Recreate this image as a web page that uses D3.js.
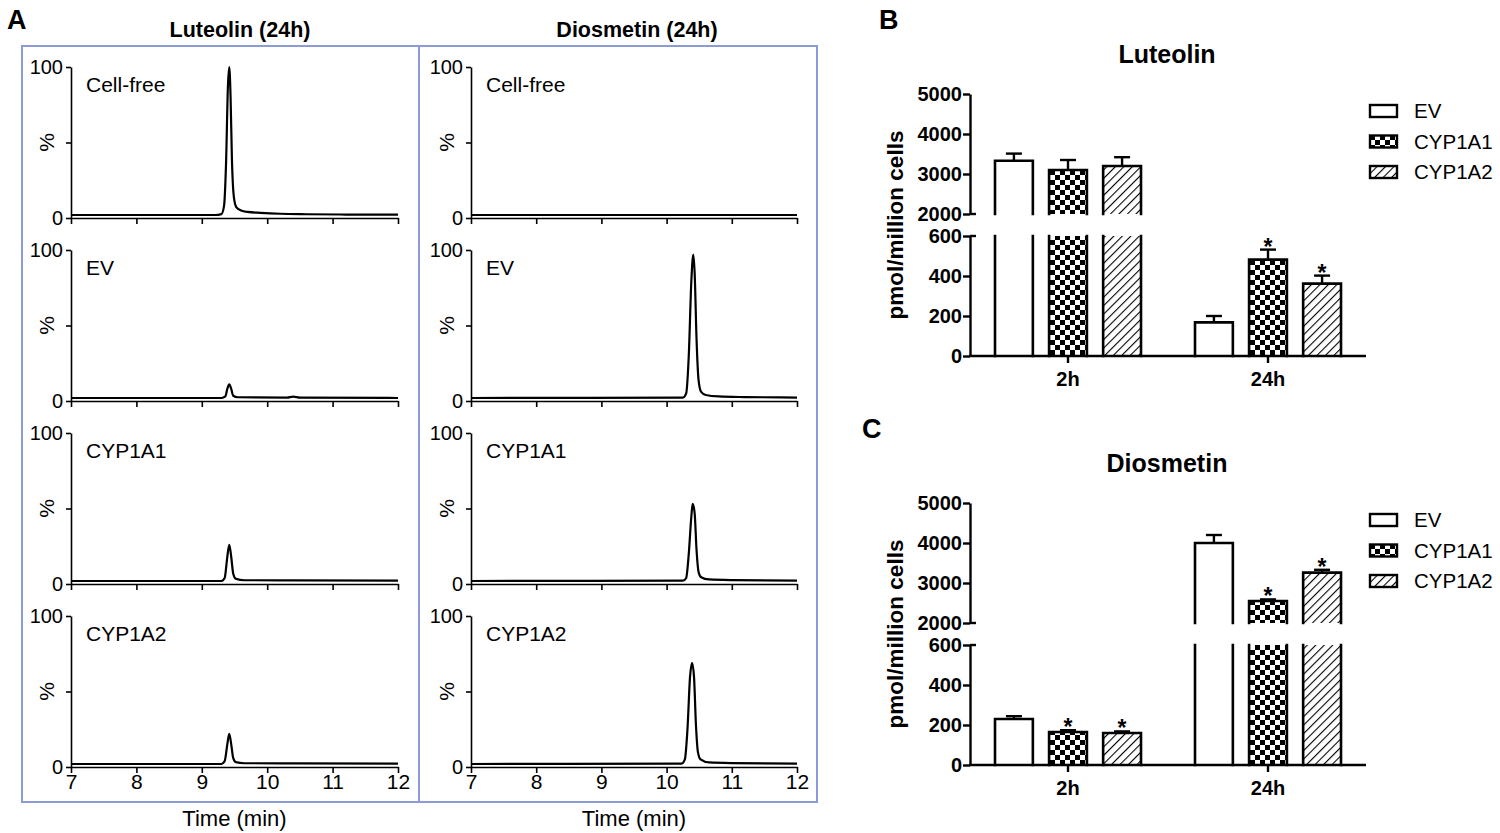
<!DOCTYPE html>
<html><head><meta charset="utf-8">
<script src="https://cdn.jsdelivr.net/npm/d3@7"></script>
<style>
body{margin:0;background:#fff}
svg{display:block}
text{font-family:"Liberation Sans",Arial,Helvetica,sans-serif;fill:#000}
</style>
</head><body>
<svg id="chart" width="1500" height="833"></svg>
<script>
// ---------------- DATA ----------------
const chromColumns = ["Luteolin (24h)", "Diosmetin (24h)"];
const chromRows = ["Cell-free", "EV", "CYP1A1", "CYP1A2"];
const chromTicksX = [7, 8, 9, 10, 11, 12];
const chromTicksY = [0, 50, 100];
const chromTickLabelsY = ["0", "", "100"];

// chromatogram traces: [time (min), relative abundance %]
const lutCellFree = [[7,2],[9.2,2],[9.3,2.6],[9.34,8],[9.37,35],[9.4,88],[9.42,100],[9.44,80],[9.46,40],[9.49,14],[9.53,7],[9.6,5],[9.7,4],[9.9,3.4],[10.2,2.8],[10.6,2.5],[11.2,2.3],[12,2.2]];
const lutEV = [[7,2],[9.3,2],[9.36,3],[9.39,8],[9.42,11],[9.45,8],[9.48,3.5],[9.55,2.5],[10.3,2.2],[10.4,2.9],[10.5,2.2],[12,2]];
const lutCYP1A1 = [[7,2],[9.3,2],[9.35,4],[9.39,18],[9.42,26],[9.45,18],[9.48,7],[9.52,3.5],[9.65,2.5],[10.4,2.4],[12,2.2]];
const lutCYP1A2 = [[7,2],[9.3,2],[9.35,4],[9.39,15],[9.42,22],[9.45,15],[9.48,6],[9.52,3.2],[9.65,2.5],[10.4,2.4],[12,2.2]];
const dioCellFree = [[7,2],[9.5,2],[12,2]];
const dioEV = [[7,2],[10.25,2.2],[10.3,5],[10.34,30],[10.38,80],[10.41,97],[10.43,85],[10.46,40],[10.49,14],[10.53,6],[10.6,4],[10.8,3],[11.2,2.6],[12,2.3]];
const dioCYP1A1 = [[7,2],[10.25,2.2],[10.3,4],[10.34,20],[10.38,45],[10.4,53],[10.43,47],[10.46,22],[10.49,8],[10.53,4.5],[10.65,3],[11,2.6],[12,2.3]];
const dioCYP1A2 = [[7,2],[10.23,2.2],[10.28,5],[10.32,25],[10.36,60],[10.39,69],[10.42,60],[10.45,28],[10.48,10],[10.52,5],[10.65,3],[11,2.6],[12,2.3]];

const barGroups = ["2h", "24h"];
const barSeries = ["EV", "CYP1A1", "CYP1A2"];
const upperTicks = [2000, 3000, 4000, 5000];
const lowerTicks = [0, 200, 400, 600];

// pmol/million cells, rows = groups, cols = series
const lutMean = [[3330, 3100, 3200], [168, 482, 362]];
const lutErrTop = [[3510, 3350, 3420], [200, 532, 402]];
const lutSig = [[false, false, false], [false, true, true]];
const dioMean = [[230, 165, 160], [4000, 2550, 3260]];
const dioErrTop = [[244, 174, 168], [4200, 2590, 3330]];
const dioSig = [[false, true, true], [false, true, true]];

// ---------------- DRAW ----------------
const svg = d3.select("#chart");
const FONT = '"Liberation Sans",Arial,Helvetica,sans-serif';
const boxColor = "#8c9ad6";

// ----- Panel A -----
svg.append("text").attr("x", 7).attr("y", 29).attr("font-size", 27).attr("font-weight", "bold").text("A");

const colX = [[71, 398], [471, 797]];
const rowZero = [218, 401, 584, 767];
const rowH = 151;
const traces = [[lutCellFree, lutEV, lutCYP1A1, lutCYP1A2], [dioCellFree, dioEV, dioCYP1A1, dioCYP1A2]];
const titleX = [240, 637];

svg.append("rect").attr("x", 22).attr("y", 46).attr("width", 397).attr("height", 756)
  .attr("fill", "none").attr("stroke", boxColor).attr("stroke-width", 2);
svg.append("rect").attr("x", 419).attr("y", 46).attr("width", 398).attr("height", 756)
  .attr("fill", "none").attr("stroke", boxColor).attr("stroke-width", 2);

chromColumns.forEach((title, ci) => {
  svg.append("text").attr("x", titleX[ci]).attr("y", 37).attr("text-anchor", "middle")
    .attr("font-size", 21.5).attr("font-weight", "bold").text(title);
  const x = d3.scaleLinear().domain([7, 12]).range(colX[ci]);
  chromRows.forEach((rowName, ri) => {
    const y = d3.scaleLinear().domain([0, 100]).range([rowZero[ri], rowZero[ri] - rowH]);
    const g = svg.append("g");
    const xAxis = d3.axisBottom(x).tickValues(chromTicksX).tickSize(6).tickSizeOuter(0)
      .tickFormat(ri === 3 ? d3.format("d") : () => "");
    const gx = g.append("g").attr("transform", `translate(0,${rowZero[ri]})`).call(xAxis);
    gx.selectAll("path,line").attr("stroke", "#000").attr("stroke-width", 1.6);
    gx.selectAll("text").attr("font-size", 21).attr("font-family", FONT).attr("y", 4).attr("dy", "0.85em");
    const yAxis = d3.axisLeft(y).tickValues(chromTicksY).tickSize(5).tickSizeOuter(0)
      .tickFormat((d, i) => chromTickLabelsY[i]);
    const gy = g.append("g").attr("transform", `translate(${colX[ci][0]},0)`).call(yAxis);
    gy.selectAll("path,line").attr("stroke", "#000").attr("stroke-width", 1.6);
    gy.selectAll("text").attr("font-size", 20).attr("font-family", FONT).attr("x", -8);
    g.append("text").attr("transform", `translate(${colX[ci][0] - 24},${y(50)}) rotate(-90)`)
      .attr("text-anchor", "middle").attr("dy", "0.35em").attr("font-size", 21).text("%");
    g.append("text").attr("x", colX[ci][0] + 15).attr("y", y(100) + 25)
      .attr("font-size", 21).text(rowName);
    const line = d3.line().x(d => x(d[0])).y(d => y(d[1])).curve(d3.curveMonotoneX);
    g.append("path").datum(traces[ci][ri]).attr("d", line)
      .attr("fill", "none").attr("stroke", "#000").attr("stroke-width", 2.2).attr("stroke-linejoin", "round");
  });
  svg.append("text").attr("x", (colX[ci][0] + colX[ci][1]) / 2).attr("y", 826)
    .attr("text-anchor", "middle").attr("font-size", 22).text("Time (min)");
});

// ----- patterns -----
const defs = svg.append("defs");
const checker = defs.append("pattern").attr("id", "checker").attr("patternUnits", "userSpaceOnUse")
  .attr("width", 10).attr("height", 10);
checker.append("rect").attr("width", 10).attr("height", 10).attr("fill", "#fff");
checker.append("rect").attr("width", 5).attr("height", 5).attr("fill", "#000");
checker.append("rect").attr("x", 5).attr("y", 5).attr("width", 5).attr("height", 5).attr("fill", "#000");
const hatch = defs.append("pattern").attr("id", "hatch").attr("patternUnits", "userSpaceOnUse")
  .attr("width", 6).attr("height", 6).attr("patternTransform", "rotate(45)");
hatch.append("rect").attr("width", 6).attr("height", 6).attr("fill", "#fff");
hatch.append("line").attr("x1", 0).attr("y1", 0).attr("x2", 0).attr("y2", 6)
  .attr("stroke", "#000").attr("stroke-width", 2.2);
const fills = { "EV": "#fff", "CYP1A1": "url(#checker)", "CYP1A2": "url(#hatch)" };

// ----- Panels B & C -----
function barPanel(cfg) {
  const { dy, title, letter, letterX, mean, errTop, sig } = cfg;
  const axisX = 970;
  const upper = d3.scaleLinear().domain([2000, 5000]).range([214 + dy, 94 + dy]);
  const lower = d3.scaleLinear().domain([0, 600]).range([356 + dy, 236 + dy]);
  const val = v => v > 600 ? upper(v) : lower(v);
  const x0 = d3.scaleBand().domain(barGroups).range([968, 1368]);
  const x1 = d3.scaleBand().domain(barSeries).range([-73, 73]).paddingInner(0.3);
  const g = svg.append("g");

  g.append("text").attr("x", letterX).attr("y", 29 + dy).attr("font-size", 27).attr("font-weight", "bold").text(letter);
  g.append("text").attr("x", 1167).attr("y", 63 + dy).attr("text-anchor", "middle")
    .attr("font-size", 25).attr("font-weight", "bold").text(title);

  // bars
  barGroups.forEach((grp, gi) => {
    barSeries.forEach((s, si) => {
      const v = mean[gi][si];
      const left = x0(grp) + x0.bandwidth() / 2 + x1(s);
      const w = x1.bandwidth();
      const cx = left + w / 2;
      const segs = [];
      segs.push([lower(0), lower(Math.min(v, 600)), v <= 600]);
      if (v > 2000) segs.push([upper(2000), upper(v), true]);
      segs.forEach(([yb, yt, closed]) => {
        g.append("rect").attr("x", left).attr("y", yt).attr("width", w).attr("height", yb - yt)
          .attr("fill", fills[s]);
        const p = d3.path();
        p.moveTo(left, yb); p.lineTo(left, yt);
        if (closed) p.lineTo(left + w, yt); else p.moveTo(left + w, yt);
        p.lineTo(left + w, yb);
        g.append("path").attr("d", p.toString()).attr("fill", "none").attr("stroke", "#000")
          .attr("stroke-width", 2.6).attr("stroke-linecap", "square");
      });
      // error bar
      const yTop = val(v), yErr = val(errTop[gi][si]);
      g.append("line").attr("x1", cx).attr("x2", cx).attr("y1", yTop).attr("y2", yErr)
        .attr("stroke", "#000").attr("stroke-width", 2.4);
      g.append("line").attr("x1", cx - 8).attr("x2", cx + 8).attr("y1", yErr).attr("y2", yErr)
        .attr("stroke", "#000").attr("stroke-width", 2.4);
      if (sig[gi][si]) {
        g.append("text").attr("x", cx).attr("y", yErr + 5).attr("text-anchor", "middle")
          .attr("font-size", 23).attr("font-weight", "bold").text("*");
      }
    });
  });

  // axes
  const styleAxis = sel => {
    sel.selectAll("path,line").attr("stroke", "#000").attr("stroke-width", 2.4);
    sel.selectAll("text").attr("font-size", 20).attr("font-weight", "bold").attr("font-family", FONT);
  };
  const gu = g.append("g").attr("transform", `translate(${axisX},0)`)
    .call(d3.axisLeft(upper).tickValues(upperTicks).tickSize(7).tickSizeOuter(0).tickFormat(d3.format("d")));
  styleAxis(gu);
  const gl = g.append("g").attr("transform", `translate(${axisX},0)`)
    .call(d3.axisLeft(lower).tickValues(lowerTicks).tickSize(7).tickSizeOuter(0).tickFormat(d3.format("d")));
  styleAxis(gl);
  gu.selectAll("text").attr("x", -8);
  gl.selectAll("text").attr("x", -8);
  // break stubs
  [upper(2000), lower(600)].forEach(yy => {
    g.append("line").attr("x1", axisX).attr("x2", axisX + 6).attr("y1", yy).attr("y2", yy)
      .attr("stroke", "#000").attr("stroke-width", 2.4);
  });
  const gx = g.append("g").attr("transform", `translate(0,${lower(0)})`)
    .call(d3.axisBottom(x0).tickSize(7).tickSizeOuter(0));
  styleAxis(gx);
  gx.select(".domain").attr("d", `M${axisX - 1},0H1366`);
  gx.selectAll("text").attr("font-size", 20).attr("dy", "1.0em");

  g.append("text").attr("transform", `translate(903,${(94 + 356) / 2 + dy}) rotate(-90)`)
    .attr("text-anchor", "middle").attr("font-size", 22.5).attr("font-weight", "bold").text("pmol/million cells");

  // legend
  const lg = g.append("g").attr("transform", `translate(1370,${105 + dy})`);
  barSeries.forEach((s, i) => {
    lg.append("rect").attr("x", 0).attr("y", i * 30.5).attr("width", 27).attr("height", 12)
      .attr("fill", fills[s]).attr("stroke", "#000").attr("stroke-width", 2.4);
    lg.append("text").attr("x", 44).attr("y", i * 30.5 + 6).attr("dy", "0.36em")
      .attr("font-size", 20.5).text(s);
  });
}

barPanel({ dy: 0, title: "Luteolin", letter: "B", letterX: 879, mean: lutMean, errTop: lutErrTop, sig: lutSig });
barPanel({ dy: 409, title: "Diosmetin", letter: "C", letterX: 862, mean: dioMean, errTop: dioErrTop, sig: dioSig });
</script>
</body></html>
